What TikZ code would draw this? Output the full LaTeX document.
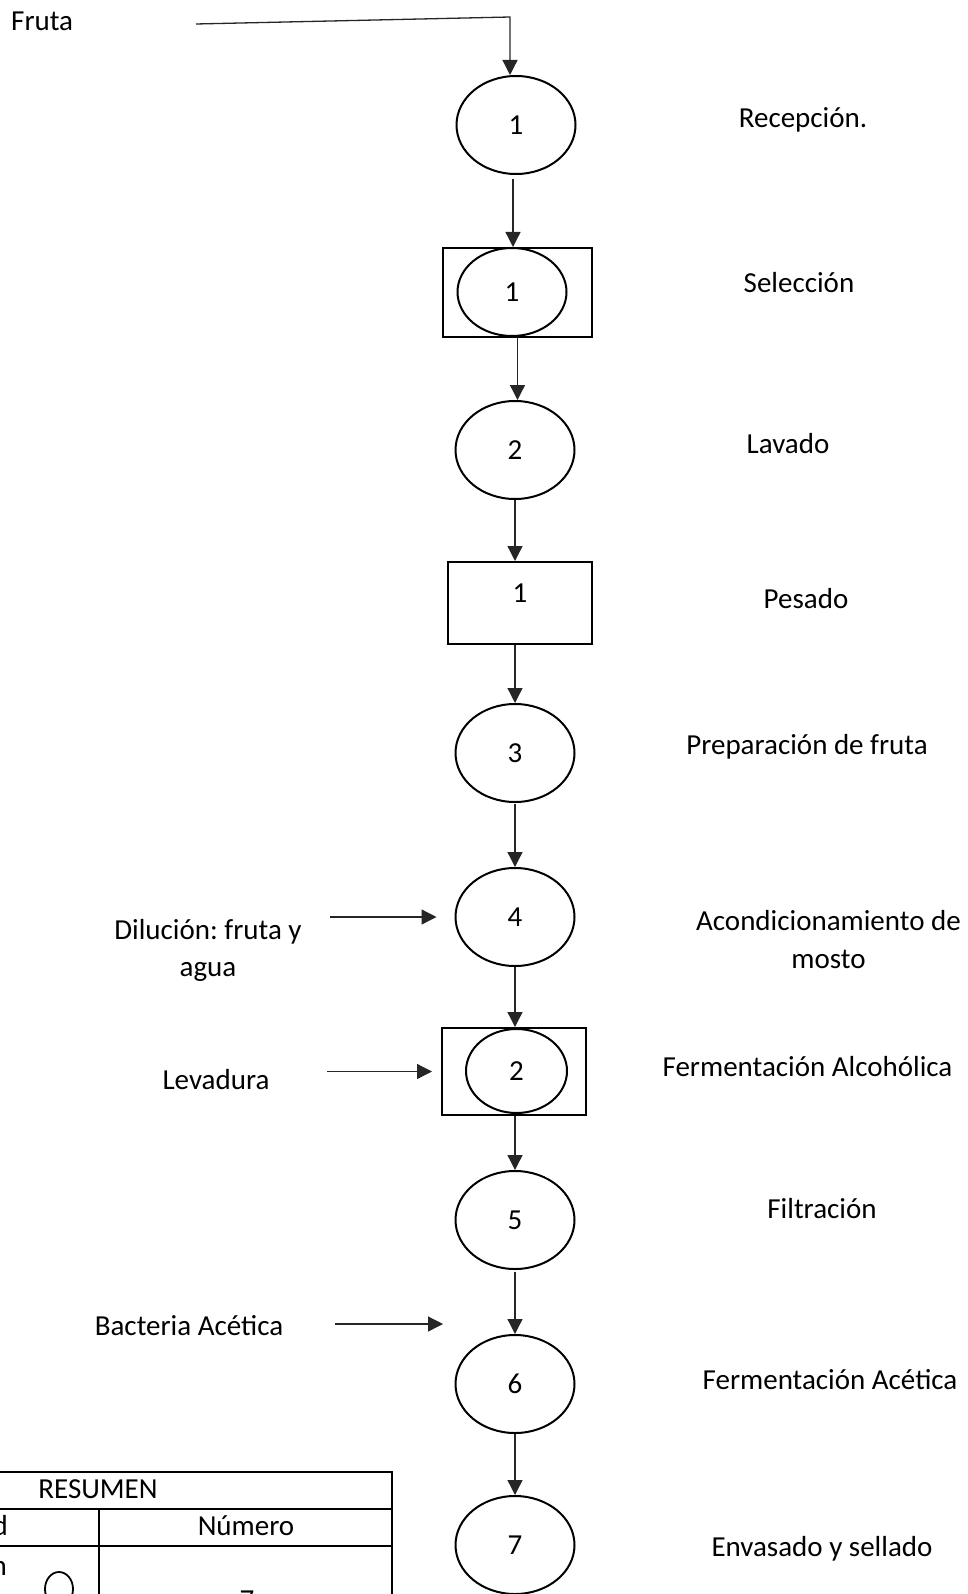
\documentclass[tikz,border=0pt]{standalone}
\usepackage{fontspec}
\setmainfont{Carlito}
\usetikzlibrary{shapes.geometric,arrows.meta}
\frenchspacing
\begin{document}
\begin{tikzpicture}[x=1pt,y=-1pt,
  every node/.style={font=\fontsize{29}{38}\selectfont, text=black},
  op/.style={ellipse, draw=black, line width=2pt, minimum width=119pt, minimum height=98pt, inner sep=0pt},
  box/.style={rectangle, draw=black, line width=2pt, inner sep=0pt},
  lbl/.style={inner sep=0pt, anchor=base},
  conn/.style={line width=1.3pt, draw=black!85, -{Triangle[width=15pt,length=15pt]}},
  tline/.style={line width=2pt, draw=black},
]
\useasboundingbox (0,0) rectangle (968,1594);
\clip (0,0) rectangle (968,1594);

% main column
\node[op] (e1) at (516,125) {1};
\node[box, minimum width=149pt, minimum height=89pt] (sel) at (517.5,292.5) {};
\node[op, minimum width=109pt, minimum height=88pt] (sele) at (512,292) {1};
\node[op] (e2) at (515,450) {2};
\node[box, minimum width=144pt, minimum height=82pt] (pes) at (520,603) {};
\node[inner sep=0pt] (pesn) at (520,593) {1};
\node[op] (e3) at (515,753) {3};
\node[op] (e4) at (515,917) {4};
\node[box, minimum width=144pt, minimum height=87pt] (fer) at (514,1071.5) {};
\node[op, minimum width=101pt, minimum height=84pt] (fere) at (516.5,1071) {2};
\node[op] (e5) at (515,1220) {5};
\node[op] (e6) at (515,1384) {6};
\node[op] (e7) at (515,1545) {7};

% connectors
\coordinate (fs) at (196,24);
\coordinate (fc) at (510,17);
\draw[conn] (fs) -- (fc) -- (fc |- e1.north);
\coordinate (c1) at (513,179);
\draw[conn] (c1) -- (c1 |- sel.north);
\draw[conn] (sel.south) -- (sel.south |- e2.north);
\draw[conn] (e2.south) -- (e2.south |- pes.north);
\draw[conn] (e2.south |- pes.south) -- (e2.south |- e3.north);
\coordinate (c3) at (515,804);
\draw[conn] (c3) -- (c3 |- e4.north);
\draw[conn] (e4.south) -- (e4.south |- fer.north);
\draw[conn] (e4.south |- fer.south) -- (e5.north);
\coordinate (c5) at (515,1272);
\draw[conn] (c5) -- (c5 |- e6.north);
\draw[conn] (e6.south) -- (e7.north);

\coordinate (d0) at (330,917);
\draw[conn] (d0) -- ([xshift=-18pt]e4.west);
\coordinate (l0) at (327,1071.5);
\draw[conn] (l0) -- ([xshift=-9pt]fer.west);
\coordinate (b0) at (335,1324);
\coordinate (b1) at (443,1324);
\draw[conn] (b0) -- (b1);

% labels
\node[lbl, anchor=base west] (tfruta) at (11,31) {Fruta};
\node[lbl] (trec) at (803,128) {Recepción.};
\node[lbl] (tsel) at (799,293) {Selección};
\node[lbl] (tlav) at (788,453) {Lavado};
\node[lbl] (tpes) at (806,608) {Pesado};
\node[lbl] (tprep) at (807,754) {Preparación de fruta};
\node[lbl] (tacond1) at (828.5,930) {Acondicionamiento de};
\node[lbl] (tacond2) at (828.5,968) {mosto};
\node[lbl] (tfalc) at (807.5,1076) {Fermentación Alcohólica};
\node[lbl] (tfil) at (822,1218) {Filtración};
\node[lbl] (tface) at (830,1389) {Fermentación Acética};
\node[lbl] (tenv) at (822,1556) {Envasado y sellado};
\node[lbl] (tdil1) at (208,939) {Dilución: fruta y};
\node[lbl] (tdil2) at (208,976) {agua};
\node[lbl] (tlev) at (216,1089) {Levadura};
\node[lbl] (tbac) at (189,1335) {Bacteria Acética};

% summary table
\draw[tline] (-200,1472) -- (392,1472) -- (392,1610);
\draw[tline] (-200,1509) -- (392,1509);
\draw[tline] (-200,1546) -- (392,1546);
\draw[tline] (99,1509) -- (99,1610);
\node[lbl] (tres) at (98,1498) {RESUMEN};
\node[lbl] (tnum) at (246,1535) {Número};
\node[lbl, anchor=base east] (tact) at (8,1535) {Actividad};
\node[lbl, anchor=base east] (top) at (7,1575) {Operación};
\node[ellipse, draw=black, line width=1.8pt, minimum width=28pt, minimum height=34pt, inner sep=0pt] (sym) at (59,1589) {};
\node[lbl] (tseven) at (247,1609) {7};
\end{tikzpicture}
\end{document}
